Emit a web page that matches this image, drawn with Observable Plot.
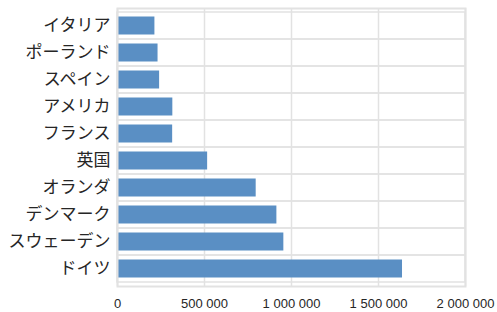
<!DOCTYPE html>
<html>
<head>
<meta charset="utf-8">
<script src="https://cdn.jsdelivr.net/npm/d3@7"></script>
<script src="https://cdn.jsdelivr.net/npm/@observablehq/plot@0.6"></script>
<style>
  html, body { margin: 0; padding: 0; background: white; }
</style>
</head>
<body>
<div id="chart"></div>
<script>
const countries = ["イタリア","ポーランド","スペイン","アメリカ","フランス","英国","オランダ","デンマーク","スウェーデン","ドイツ"];
const values = [215000, 233000, 242000, 318000, 317000, 518000, 797000, 916000, 956000, 1638000];
const xTicks = [0, 500000, 1000000, 1500000, 2000000];

const data = countries.map((c, i) => ({country: c, value: values[i]}));
const fmt = d => d3.format(",")(d).replace(/,/g, " ");
const gridColor = "#e2e2e2";

const chart = Plot.plot({
  width: 497,
  height: 312,
  marginLeft: 117,
  marginRight: 32,
  marginTop: 8,
  marginBottom: 26,
  style: {fontFamily: "'Liberation Sans', Arial, 'Noto Sans CJK JP', sans-serif", color: "#262626", background: "white"},
  x: {domain: [0, 2000000]},
  y: {domain: countries, padding: 0},
  marks: [
    Plot.barX(countries, {x1: 0, x2: 2000000, y: d => d, fill: "none", stroke: gridColor, strokeWidth: 1.5, inset: 0}),
    Plot.ruleX(xTicks, {x: d => d, stroke: gridColor, strokeWidth: 1.5}),
    Plot.barX(data, {x: "value", y: "country", fill: "#5a8fc4", insetTop: 4.5, insetBottom: 4.5, insetLeft: 0, insetRight: 0}),
    Plot.frame({stroke: gridColor, strokeWidth: 2}),
    Plot.axisX({ticks: xTicks, tickSize: 0, tickPadding: 12, fontSize: 13, tickFormat: fmt, label: null}),
    Plot.axisY({tickSize: 0, tickPadding: 7, fontSize: 17, label: null, fontFamily: "'Noto Sans CJK JP', sans-serif"})
  ]
});
document.getElementById("chart").appendChild(chart);
</script>
</body>
</html>
